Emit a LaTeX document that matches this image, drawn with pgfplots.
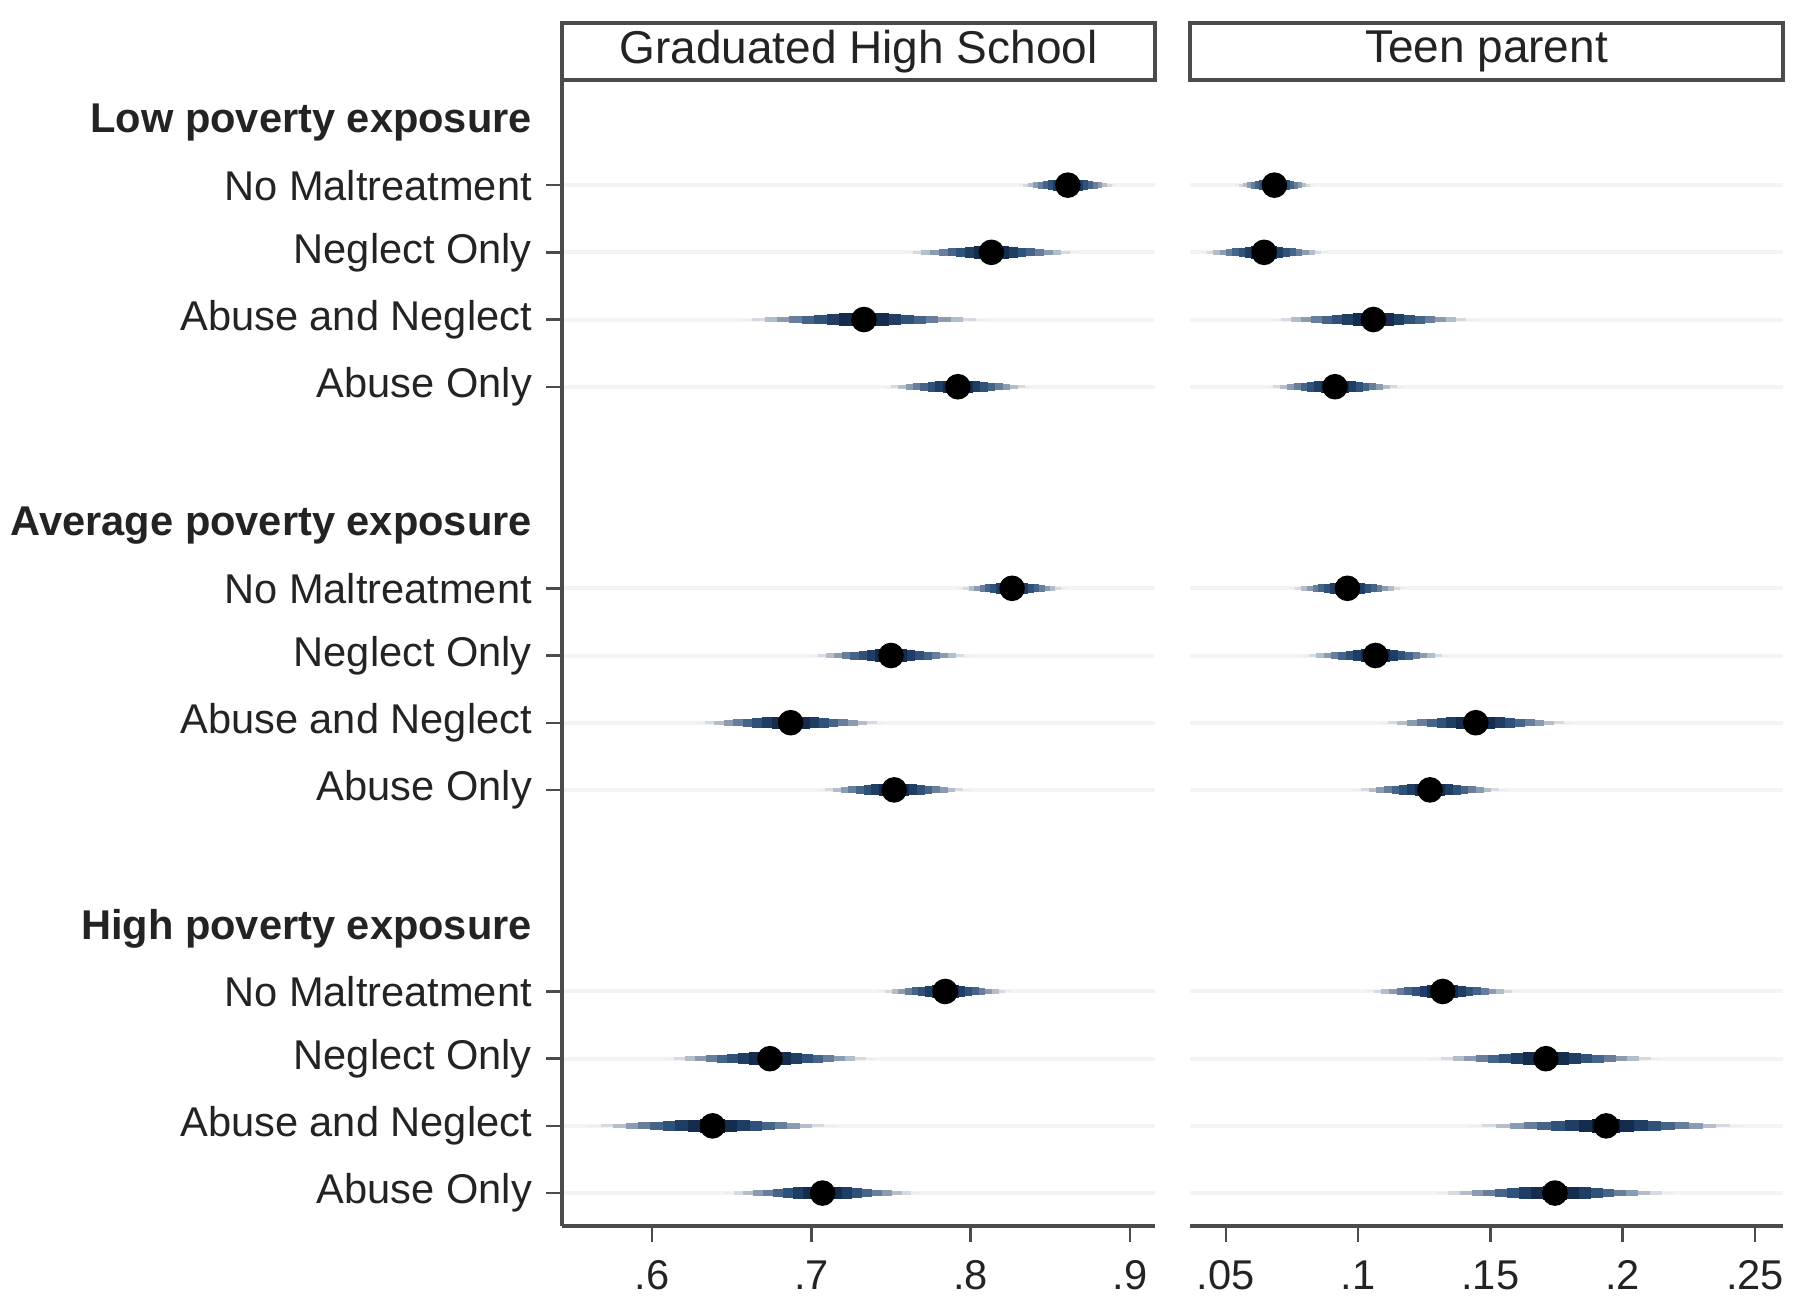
\documentclass[border=0pt]{standalone}
\usepackage{fontspec}
\setmainfont{Liberation Sans}
\usepackage{pgfplots}
\usepackage{pgfplotstable}
\pgfplotsset{compat=1.18}

\definecolor{axgray}{RGB}{75,75,75}
\definecolor{labgray}{RGB}{35,35,35}
\definecolor{ciA}{RGB}{236,238,240}
\definecolor{ciB}{RGB}{214,219,225}
\definecolor{ciC}{RGB}{180,190,202}
\definecolor{ciD}{RGB}{140,156,176}
\definecolor{ciE}{RGB}{104,126,154}
\definecolor{ciF}{RGB}{70,100,136}
\definecolor{ciG}{RGB}{46,82,122}
\definecolor{ciH}{RGB}{32,62,100}
\definecolor{ciI}{RGB}{22,44,76}
\definecolor{ciJ}{RGB}{14,26,46}

% row = position from the top, est = point estimate, hw = half width of the interval
\pgfplotstableread{
row est hw
1  0.861 0.031
2  0.813 0.055
3  0.733 0.078
4  0.792 0.047
7  0.826 0.034
8  0.750 0.051
9  0.687 0.060
10 0.752 0.048
13 0.784 0.042
14 0.674 0.067
15 0.638 0.078
16 0.707 0.062
}\gradhs

\pgfplotstableread{
row est hw
1  0.0684 0.015
2  0.0645 0.024
3  0.1058 0.039
4  0.0913 0.026
7  0.0960 0.022
8  0.1066 0.028
9  0.1445 0.037
10 0.1272 0.029
13 0.1320 0.029
14 0.1710 0.044
15 0.1938 0.052
16 0.1744 0.045
}\teenpar

% one band of the shaded interval: table, share of half width, line width, colour
\newcommand{\cilayer}[4]{%
  \addplot[only marks, mark=none, forget plot,
    error bars/.cd, x dir=both, x explicit, error mark=none,
    error bar style={line width=#3, draw=#4}]
    table[x=est, y expr=-\thisrow{row}, x error expr=\thisrow{hw}*#2] {#1};
}
\newcommand{\ciplot}[1]{%
  \cilayer{#1}{1.00}{0.5pt}{ciA}
  \cilayer{#1}{0.90}{0.8pt}{ciB}
  \cilayer{#1}{0.80}{1.1pt}{ciC}
  \cilayer{#1}{0.70}{1.4pt}{ciD}
  \cilayer{#1}{0.60}{1.7pt}{ciE}
  \cilayer{#1}{0.50}{2.0pt}{ciF}
  \cilayer{#1}{0.40}{2.4pt}{ciG}
  \cilayer{#1}{0.30}{2.8pt}{ciH}
  \cilayer{#1}{0.20}{3.1pt}{ciI}
  \cilayer{#1}{0.10}{3.4pt}{ciJ}
  \addplot[only marks, mark=*, mark size=3pt, color=black]
    table[x=est, y expr=-\thisrow{row}] {#1};
}

\pgfplotsset{
  every axis title shift=0pt,
  panel/.style={
    scale only axis, width=148.25pt, height=286.5pt,
    anchor=south west,
    axis lines*=left,
    ymin=-16.49, ymax=0.565,
    enlargelimits=false,
    ytick={-1,-2,-3,-4,-7,-8,-9,-10,-13,-14,-15,-16},
    ymajorgrids, major grid style={draw=gray!9, line width=1pt},
    tick align=outside, major tick length=4pt,
    axis line style={draw=axgray, line width=0.8pt},
    tick style={draw=axgray, line width=0.6pt},
    ticklabel style={font=\fontsize{10.4}{12}\selectfont, text=labgray},
    xticklabel style={yshift=-1.2pt},
    title style={at={(0.5,1)}, anchor=south, yshift=-0.4pt, draw=axgray, line width=0.8pt,
      minimum width=148.25pt, minimum height=14.25pt, inner sep=0pt,
      font=\fontsize{11.5}{13}\selectfont, text=labgray},
  },
}

\begin{document}
\begin{tikzpicture}
\useasboundingbox (0,0) rectangle (450pt,329pt);

\begin{axis}[panel, at={(140.5pt,22.5pt)},
    xmin=0.5435, xmax=0.9157,
    xtick={0.6,0.7,0.8,0.9}, xticklabels={.6,.7,.8,.9},
    title={Graduated High School},
    yticklabels={No Maltreatment, Neglect Only, Abuse and Neglect, Abuse Only,
                 No Maltreatment, Neglect Only, Abuse and Neglect, Abuse Only,
                 No Maltreatment, Neglect Only, Abuse and Neglect, Abuse Only},
    extra y ticks={0,-6,-12},
    extra y tick labels={Low poverty exposure, Average poverty exposure, High poverty exposure},
    extra y tick style={grid=none, tick style={draw=none},
      yticklabel style={font=\fontsize{10.4}{12}\selectfont\bfseries, yshift=-1.1pt}},
  ]
  \ciplot{\gradhs}
\end{axis}

\begin{axis}[panel, at={(297.5pt,22.5pt)},
    xmin=0.0365, xmax=0.2606,
    xtick={0.05,0.1,0.15,0.2,0.25}, xticklabels={.05,.1,.15,.2,.25},
    title={Teen parent},
    yticklabel style={text opacity=0},
    y axis line style={draw=none},
    ytick style={draw=none},
  ]
  \ciplot{\teenpar}
\end{axis}
\end{tikzpicture}
\end{document}
